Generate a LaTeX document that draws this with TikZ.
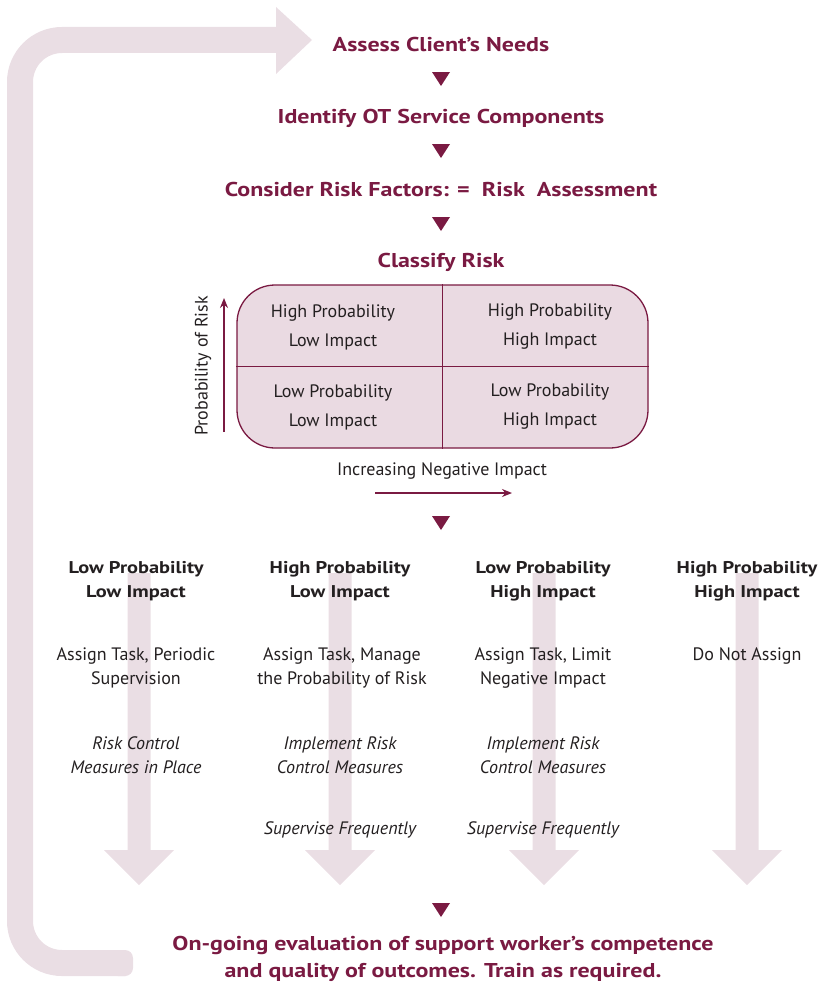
\documentclass[tikz,border=0pt]{standalone}
\usepackage{fontspec}
\setmainfont{PT Sans}[BoldFeatures={FakeStretch=1.2}]
\usepackage{tikz}
\usetikzlibrary{arrows.meta}
\definecolor{plum}{RGB}{122,26,66}
\definecolor{bandpink}{RGB}{234,222,228}
\definecolor{cellpink}{RGB}{234,218,226}
\definecolor{ink}{RGB}{35,31,32}
\tikzset{
    steptitle/.style={text=plum, font=\fontsize{20}{27}\selectfont\bfseries, inner sep=0pt},
    cell/.style={text=ink, align=center, font=\fontsize{18}{29}\selectfont, inner sep=0pt},
    colhead/.style={text=ink, align=center, font=\fontsize{17}{24}\selectfont\bfseries, inner sep=0pt},
    coltext/.style={text=ink, align=center, font=\fontsize{18}{24.5}\selectfont, inner sep=0pt},
    colnote/.style={text=ink, align=center, font=\fontsize{18}{24.5}\selectfont\itshape, inner sep=0pt},
    downtri/.pic={\fill[plum] (-9,-7) -- (9,-7) -- (0,7) -- cycle;},
    bigdown/.pic={\fill[bandpink] (-11.5,0) -- (11.5,0) -- (11.5,277) -- (35,277) -- (0,312) -- (-35,277) -- (-11.5,277) -- cycle;}
}
\begin{document}
\begin{tikzpicture}[x=1pt,y=-1pt]
            \useasboundingbox (0,0) rectangle (819,990);
            % loop back
            \draw[bandpink, line width=26, rounded corners=42] (126,963) -- (20,963) -- (20,40) -- (278,40);
            \fill[bandpink, rounded corners=8] (110,950) rectangle (133,976);
            \fill[bandpink] (276,7) -- (312,40) -- (276,74) -- cycle;
            % column arrows
            \foreach \cx in {139,340,544,747}
                \pic at (\cx,573) {bigdown};
            % steps
            \node[steptitle] (assess) at (441,45) {Assess Client’s Needs};
            \pic at (441,79) {downtri};
            \node[steptitle] (identify) at (441,118) {Identify OT Service Components};
            \pic at (441,151) {downtri};
            \node[steptitle] (consider) at (441,189) {Consider Risk Factors: =~ Risk~ Assessment};
            \pic at (441,224) {downtri};
            \node[steptitle] (classify) at (441,262) {Classify Risk};
            % grid
            \node[draw=plum, line width=1.3, fill=cellpink, rounded corners=38, minimum width=411, minimum height=163, inner sep=0pt] (grid) at (442.5,366.5) {};
            \draw[plum, line width=1.3] (grid.north) -- (grid.south);
            \draw[plum, line width=1.3] (grid.west) -- (grid.east);
            \node[cell] (hplo) at (333,327) {High Probability\\Low Impact};
            \node[cell] (hphi) at (550,327) {High Probability\\High Impact};
            \node[cell] (lplo) at (333,407) {Low Probability\\Low Impact};
            \node[cell] (lphi) at (550,407) {Low Probability\\High Impact};
            \node[cell, rotate=90] (problabel) at (203,366) {Probability of Risk};
            \coordinate (pbot) at (224,432);
            \coordinate (ptop) at (224,298);
            \draw[plum, line width=1.3, -{Stealth[length=10,width=8]}] (pbot) -- (ptop);
            \node[cell] (implabel) at (442,471) {Increasing Negative Impact};
            \coordinate (ileft) at (375,493);
            \coordinate (iright) at (512,493);
            \draw[plum, line width=1.3, -{Stealth[length=10,width=8]}] (ileft) -- (iright);
            \pic at (441,523) {downtri};
            % columns
            \node[colhead] (h1) at (136,581) {Low Probability\\Low Impact};
            \node[colhead] (h2) at (340,581) {High Probability\\Low Impact};
            \node[colhead] (h3) at (543,581) {Low Probability\\High Impact};
            \node[colhead] (h4) at (747,581) {High Probability\\High Impact};
            \node[coltext] (a1) at (136,668) {Assign Task, Periodic\\Supervision};
            \node[coltext] (a2) at (342,668) {Assign Task, Manage\\the Probability of Risk};
            \node[coltext] (a3) at (543,668) {Assign Task, Limit\\Negative Impact};
            \node[coltext] (a4) at (747,656) {Do Not Assign};
            \node[colnote] (m1) at (136,755) {Risk Control\\Measures in Place};
            \node[colnote] (m2) at (340,755) {Implement Risk\\Control Measures};
            \node[colnote] (m3) at (543,755) {Implement Risk\\Control Measures};
            \node[colnote] (s2) at (340,830) {Supervise Frequently};
            \node[colnote] (s3) at (543,830) {Supervise Frequently};
            % evaluation
            \pic at (441,910) {downtri};
            \node[steptitle, align=center] (evaluate) at (443,959) {On-going evaluation of support worker’s competence\\and quality of outcomes. Train as required.};
        \end{tikzpicture}
\end{document}
